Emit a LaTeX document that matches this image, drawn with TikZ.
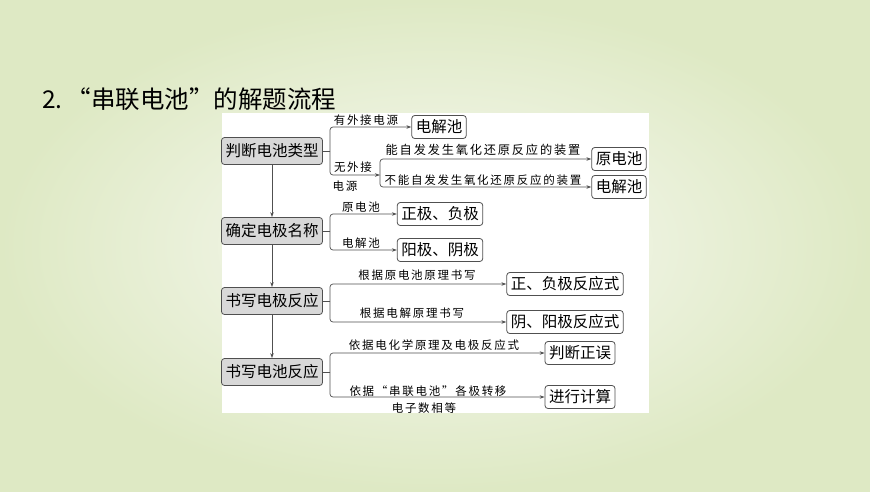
\documentclass[tikz,border=0pt]{standalone}
\usepackage{fontspec}
\setmainfont{Noto Sans CJK SC}
\newfontfamily\labfont[LetterSpace=15]{Noto Sans CJK SC}
\usetikzlibrary{arrows.meta}
\definecolor{bgout}{RGB}{222,233,196}
\definecolor{bgin}{RGB}{249,250,245}
\definecolor{lnc}{RGB}{80,80,80}
\definecolor{mainfill}{RGB}{216,216,216}
\tikzset{
  mainbox/.style={draw=lnc, fill=mainfill, rounded corners=3pt, line width=0.8pt,
    minimum width=101pt, minimum height=27pt, inner sep=2pt,
    font=\fontsize{15.5}{15.5}\selectfont},
  resbox/.style={draw=lnc, fill=white, rounded corners=3pt, line width=0.8pt,
    minimum height=23pt, inner xsep=4pt, inner ysep=2pt,
    font=\fontsize{15.5}{15.5}\selectfont},
  lab/.style={inner sep=0pt, font=\labfont\fontsize{11.5}{11.5}\selectfont},
  conn/.style={draw=lnc, line width=0.7pt, rounded corners=3pt},
  arr/.style={conn, -{Stealth[length=5pt,width=3.5pt]}}
}
\begin{document}
\begin{tikzpicture}[x=1pt,y=-1pt]
\shade[inner color=bgin, outer color=bgout] (0,0) rectangle (870,491);
\useasboundingbox (0,0) rectangle (870,491);
\fill[white] (222,113) rectangle (649,413);

\node[anchor=west, inner sep=0pt, font=\fontsize{24.5}{24.5}\selectfont] (title) at (42,99) {2.\,“串联电池”的解题流程};

% main boxes
\node[mainbox] (m1) at (272,151) {判断电池类型};
\node[mainbox] (m2) at (272,231) {确定电极名称};
\node[mainbox] (m3) at (272,301) {书写电极反应};
\node[mainbox] (m4) at (272,372) {书写电池反应};
\draw[arr] (m1) -- (m2);
\draw[arr] (m2) -- (m3);
\draw[arr] (m3) -- (m4);

% block 1
\coordinate (j1) at (330,151);
\coordinate (k1) at (380,175);
\node[resbox] (r1a) at (439,127) {电解池};
\node[resbox] (r1b) at (619,159) {原电池};
\node[resbox] (r1c) at (619,187) {电解池};
\draw[conn] (m1.east) -- (j1);
\draw[arr] (j1) |- (r1a.west);
\draw[arr] (j1) |- (k1);
\draw[arr] (k1) |- (r1b.west);
\draw[arr] (k1) |- (r1c.west);
\node[lab] (l1a) at (366,120) {有外接电源};
\node[lab] (l1b) at (353,167) {无外接};
\node[lab] (l1c) at (345,186) {电源};
\node[lab, font=\labfont\fontsize{12.2}{12.2}\selectfont] (l1d) at (483,150) {能自发发生氧化还原反应的装置};
\node[lab] (l1e) at (483,180) {不能自发发生氧化还原反应的装置};

% block 2
\coordinate (j2) at (330,231);
\node[resbox] (r2a) at (440,214) {正极、负极};
\node[resbox] (r2b) at (440,250) {阳极、阴极};
\draw[conn] (m2.east) -- (j2);
\draw[arr] (j2) |- (r2a.west);
\draw[arr] (j2) |- (r2b.west);
\node[lab] (l2a) at (361,207) {原电池};
\node[lab] (l2b) at (361,243) {电解池};

% block 3
\coordinate (j3) at (330,301);
\node[resbox] (r3a) at (565,284) {正、负极反应式};
\node[resbox] (r3b) at (565,322) {阴、阳极反应式};
\draw[conn] (m3.east) -- (j3);
\draw[arr] (j3) |- (r3a.west);
\draw[arr] (j3) |- (r3b.west);
\node[lab] (l3a) at (417,275) {根据原电池原理书写};
\node[lab] (l3b) at (412,313) {根据电解原理书写};

% block 4
\coordinate (j4) at (330,372);
\node[resbox] (r4a) at (580,353) {判断正误};
\node[resbox] (r4b) at (580,397) {进行计算};
\draw[conn] (m4.east) -- (j4);
\draw[arr] (j4) |- (r4a.west);
\draw[arr] (j4) |- (r4b.west);
\node[lab] (l4a) at (434,345) {依据电化学原理及电极反应式};
\node[lab] (l4b) at (428,391) {依据“串联电池”各极转移};
\node[lab] (l4c) at (424,408) {电子数相等};
\end{tikzpicture}
\end{document}
